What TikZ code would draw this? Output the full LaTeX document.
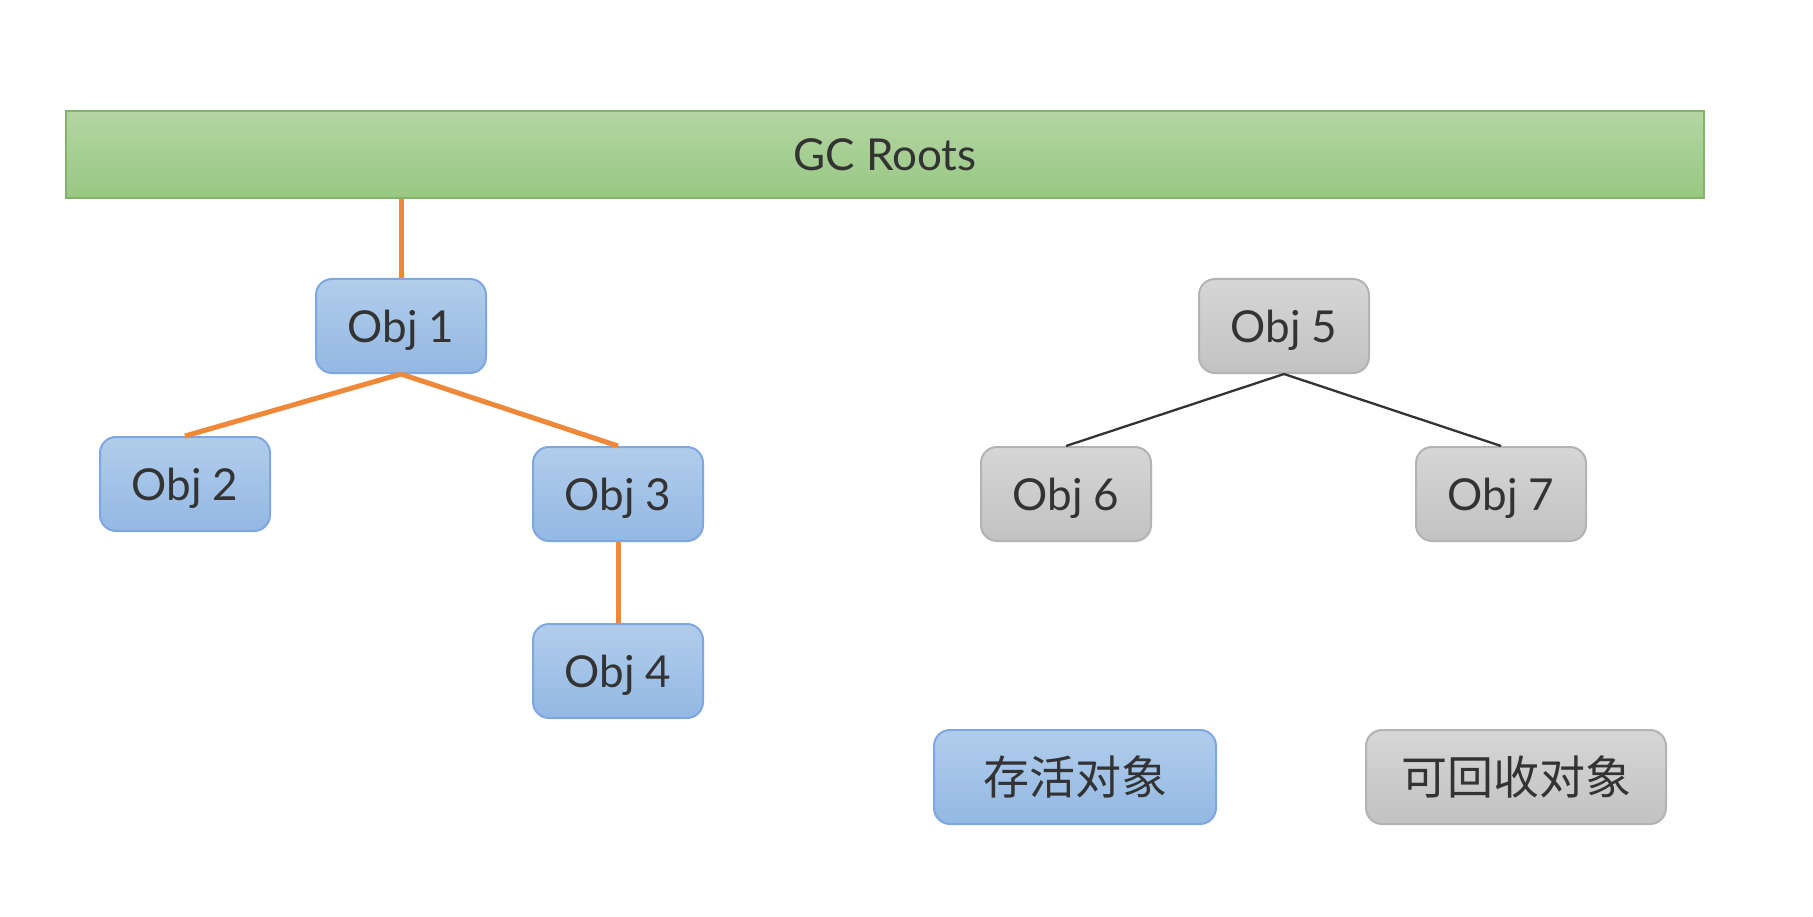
\documentclass[tikz,border=0pt]{standalone}
\usepackage{fontspec}
\setmainfont{Lato}
\newfontfamily\cjkfont{Noto Sans CJK SC}
\definecolor{blueT}{HTML}{B1CDEB}
\definecolor{blueB}{HTML}{93B8E3}
\definecolor{blueD}{HTML}{7EA6E0}
\definecolor{grayT}{HTML}{D6D6D6}
\definecolor{grayB}{HTML}{C2C2C2}
\definecolor{grayD}{HTML}{B3B3B3}
\definecolor{greenT}{HTML}{B5D5A3}
\definecolor{greenB}{HTML}{97C883}
\definecolor{greenD}{HTML}{82B366}
\definecolor{orangeL}{HTML}{F0883A}
\definecolor{txt}{HTML}{333333}
\begin{document}
\begin{tikzpicture}[x=1pt,y=-1pt,
  basebox/.style={rounded corners=16pt, line width=2pt, minimum height=94pt, inner sep=0pt, text=txt},
  bluefill/.style={draw=blueD, top color=blueT, bottom color=blueB},
  grayfill/.style={draw=grayD, top color=grayT, bottom color=grayB},
  objtext/.style={minimum width=170pt, text depth=0pt, font=\fontsize{44}{50}\selectfont},
  legtext/.style={font=\cjkfont\fontsize{46}{50}\selectfont},
  alive/.style={basebox, bluefill, objtext},
  dead/.style={basebox, grayfill, objtext},
  liveedge/.style={draw=orangeL, line width=5pt},
  deadedge/.style={draw=black!80, line width=2.3pt}]
\useasboundingbox (0,0) rectangle (1813,917);
\node[draw=greenD, line width=2pt, top color=greenT, bottom color=greenB, minimum width=1638pt, minimum height=87pt, inner sep=0pt, text depth=0pt, text=txt, font=\fontsize{44}{50}\selectfont] (gc) at (885,154.5) {GC Roots};
\node[alive] (o1) at (401,326) {Obj 1};
\node[alive] (o2) at (185,484) {Obj 2};
\node[alive] (o3) at (618,494) {Obj 3};
\node[alive] (o4) at (618,671) {Obj 4};
\node[dead] (o5) at (1284,326) {Obj 5};
\node[dead] (o6) at (1066,494) {Obj 6};
\node[dead] (o7) at (1501,494) {Obj 7};
\node[basebox, bluefill, legtext, minimum width=282pt] (lg1) at (1075,777) {存活对象};
\node[basebox, grayfill, legtext, minimum width=300pt] (lg2) at (1516,777) {可回收对象};
\coordinate (gcx) at (gc.south -| o1.north);
\draw[liveedge] (gcx) -- (o1.north);
\draw[liveedge] (o1.south) -- (o2.north);
\draw[liveedge] (o1.south) -- (o3.north);
\draw[liveedge] (o3.south) -- (o4.north);
\draw[deadedge] (o5.south) -- (o6.north);
\draw[deadedge] (o5.south) -- (o7.north);
\end{tikzpicture}
\end{document}
